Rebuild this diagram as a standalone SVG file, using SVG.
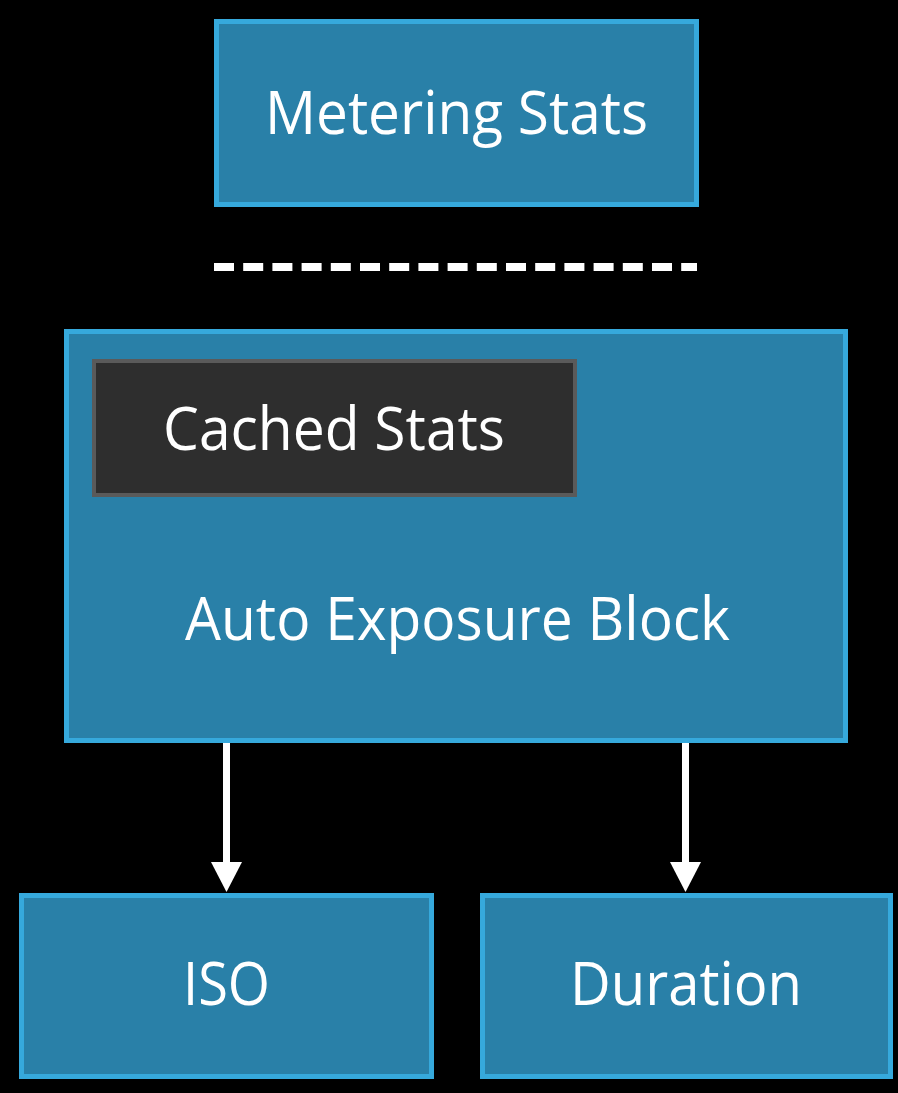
<svg xmlns="http://www.w3.org/2000/svg" width="898" height="1093" viewBox="0 0 898 1093">
<style>
.box{fill:#2980a8;stroke:#36a9dc;stroke-width:5}
.cache{fill:#2e2e2e;stroke:#5a5a5a;stroke-width:4}
.lbl{font-family:"Open Sans","Liberation Sans",sans-serif;font-size:60px;fill:#ffffff;text-anchor:middle}
.conn{stroke:#ffffff;stroke-width:7;fill:none}
.head{fill:#ffffff}
</style>
<rect width="898" height="1093" fill="#000000"/>
<g id="metering">
<rect class="box" x="216.5" y="21.5" width="480" height="183"/>
<text class="lbl" x="456.5" y="134" textLength="383" lengthAdjust="spacingAndGlyphs">Metering Stats</text>
</g>
<g id="separator">
<line x1="214" y1="267" x2="697" y2="267" stroke="#ffffff" stroke-width="8" stroke-dasharray="20 9.2"/>
</g>
<g id="autoexposure">
<rect class="box" x="66.5" y="331.5" width="779" height="409"/>
<text class="lbl" x="457.5" y="640" textLength="545" lengthAdjust="spacingAndGlyphs">Auto Exposure Block</text>
</g>
<g id="cached">
<rect class="cache" x="94" y="361" width="481" height="134"/>
<text class="lbl" x="334" y="450" textLength="342" lengthAdjust="spacingAndGlyphs">Cached Stats</text>
</g>
<g id="iso">
<rect class="box" x="21.5" y="895.5" width="410" height="181"/>
<text class="lbl" x="226.5" y="1005" textLength="87" lengthAdjust="spacingAndGlyphs">ISO</text>
</g>
<g id="duration">
<rect class="box" x="482.5" y="895.5" width="408" height="181"/>
<text class="lbl" x="686" y="1005" textLength="232" lengthAdjust="spacingAndGlyphs">Duration</text>
</g>
<g id="connectors">
<line class="conn" x1="226.5" y1="743" x2="226.5" y2="864"/>
<polygon class="head" points="211,862 242,862 226.5,892"/>
<line class="conn" x1="685.5" y1="743" x2="685.5" y2="864"/>
<polygon class="head" points="670,862 701,862 685.5,892"/>
</g>
</svg>
